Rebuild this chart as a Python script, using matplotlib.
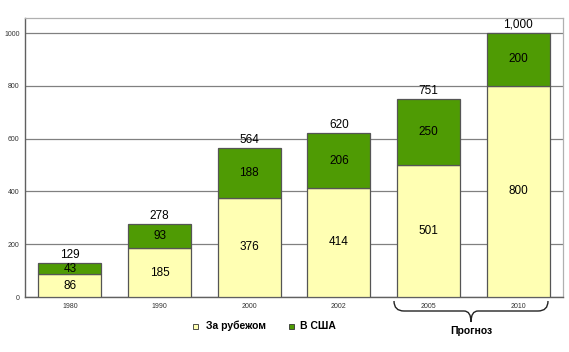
import matplotlib
matplotlib.use('Agg')
import matplotlib.pyplot as plt
from matplotlib.path import Path
from matplotlib.patches import PathPatch, Rectangle
import numpy as np

plt.rcParams['font.family'] = ['Liberation Sans', 'DejaVu Sans']

# data
years = ['1980', '1990', '2000', '2002', '2005', '2010']
abroad = [86, 185, 376, 414, 501, 800]     # За рубежом
usa = [43, 93, 188, 206, 250, 200]         # В США
totals = ['129', '278', '564', '620', '751', '1,000']

c_abroad = '#ffffb3'
c_usa = '#4f9b04'
edge = '#555555'

fig = plt.figure(figsize=(5.69, 3.52), dpi=100)
ax = fig.add_axes([0.044, 0.156, 0.9455, 0.793])

x = np.arange(len(years))
w = 0.7
ax.bar(x, abroad, w, color=c_abroad, edgecolor=edge, linewidth=0.9, zorder=3)
ax.bar(x, usa, w, bottom=abroad, color=c_usa, edgecolor=edge, linewidth=0.9, zorder=3)

for i in range(len(years)):
    ax.text(x[i], abroad[i] / 2, str(abroad[i]), ha='center', va='center',
            fontsize=8.5, zorder=4)
    ax.text(x[i], abroad[i] + usa[i] / 2, str(usa[i]), ha='center', va='center',
            fontsize=8.5, zorder=4)
    ax.text(x[i], abroad[i] + usa[i] + 8, totals[i], ha='center', va='bottom',
            fontsize=8.5, zorder=4)

ax.set_xlim(-0.5, 5.5)
ax.set_ylim(0, 1057)
ax.set_yticks([0, 200, 400, 600, 800, 1000])
ax.set_xticks(x)
ax.set_xticklabels(years)
ax.tick_params(axis='both', labelsize=5, length=0, colors='#333333', pad=4)
ax.yaxis.grid(True, color='#808080', linewidth=0.9, zorder=0)
ax.set_axisbelow(True)
for s in ['top', 'right']:
    ax.spines[s].set_color('#b0b0b0')
    ax.spines[s].set_linewidth(0.9)
for s in ['left', 'bottom']:
    ax.spines[s].set_color('#606060')
    ax.spines[s].set_linewidth(1.0)

# legend
fig.patches.append(Rectangle((193 / 569, 1 - 329 / 352), 5 / 569, 5 / 352,
                             transform=fig.transFigure, facecolor=c_abroad,
                             edgecolor='#333333', linewidth=0.6))
fig.text(206 / 569, 1 - 326 / 352, 'За рубежом', fontsize=7.5, fontweight='bold',
         va='center', ha='left')
fig.patches.append(Rectangle((289 / 569, 1 - 329 / 352), 5 / 569, 5 / 352,
                             transform=fig.transFigure, facecolor=c_usa,
                             edgecolor='#333333', linewidth=0.6))
fig.text(300 / 569, 1 - 326 / 352, 'В США', fontsize=7.5, fontweight='bold',
         va='center', ha='left')

# brace under forecast years
H = 352.0
def fp(px, py):
    return (px / 569.0, 1 - py / H)
pts = [fp(394, 301), fp(394, 311), fp(404, 311),
       fp(464, 311), fp(471, 311), fp(471, 322),
       fp(471, 311), fp(478, 311),
       fp(538, 311), fp(548, 311), fp(548, 301)]
codes = [Path.MOVETO, Path.CURVE3, Path.CURVE3,
         Path.LINETO, Path.CURVE3, Path.CURVE3,
         Path.CURVE3, Path.CURVE3,
         Path.LINETO, Path.CURVE3, Path.CURVE3]
fig.patches.append(PathPatch(Path(pts, codes), transform=fig.transFigure,
                             fill=False, edgecolor='#222222', linewidth=1.0))
fig.text(471 / 569, 1 - 331 / H, 'Прогноз', fontsize=7.5, fontweight='bold',
         ha='center', va='center')

fig.savefig('out.png', dpi=100)
